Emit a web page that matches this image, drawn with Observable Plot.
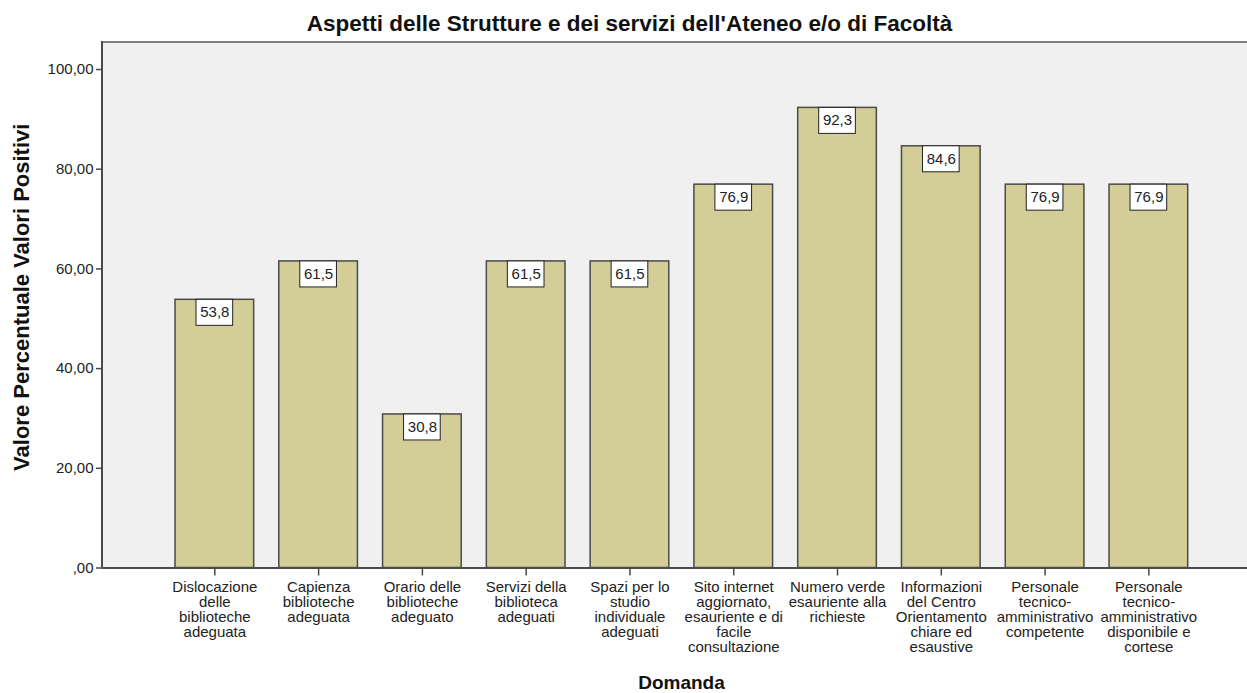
<!DOCTYPE html>
<html><head><meta charset="utf-8">
<script src="https://cdn.jsdelivr.net/npm/d3@7"></script>
<script src="https://cdn.jsdelivr.net/npm/@observablehq/plot@0.6"></script>
<style>body{margin:0;background:#fff} svg{display:block}</style>
</head><body><div id="chart"></div>
<script>
const categories = [
  "Dislocazione\ndelle\nbiblioteche\nadeguata",
  "Capienza\nbiblioteche\nadeguata",
  "Orario delle\nbiblioteche\nadeguato",
  "Servizi della\nbiblioteca\nadeguati",
  "Spazi per lo\nstudio\nindividuale\nadeguati",
  "Sito internet\naggiornato,\nesauriente e di\nfacile\nconsultazione",
  "Numero verde\nesauriente alla\nrichieste",
  "Informazioni\ndel Centro\nOrientamento\nchiare ed\nesaustive",
  "Personale\ntecnico-\namministrativo\ncompetente",
  "Personale\ntecnico-\namministrativo\ndisponibile e\ncortese"
];
const values = [53.8, 61.5, 30.8, 61.5, 61.5, 76.9, 92.3, 84.6, 76.9, 76.9];
const yTicks = [0, 20, 40, 60, 80, 100];
const titleText = "Aspetti delle Strutture e dei servizi dell'Ateneo e/o di Facoltà";
const yLabel = "Valore Percentuale Valori Positivi";
const xLabel = "Domanda";

const data = categories.map((c, i) => ({cat: c, value: values[i]}));
const fmtTick = d => d === 0 ? ",00" : d.toFixed(2).replace(".", ",");
const fmtVal = d => d.toFixed(1).replace(".", ",");
const FONT = "'Liberation Sans', Arial, sans-serif";

const borderLines = (index, scales, values, dim) => {
  const g = d3.create("svg:g");
  const x0 = dim.marginLeft, x1 = dim.width - dim.marginRight;
  const y0 = dim.marginTop, y1 = dim.height - dim.marginBottom;
  g.append("line").attr("x1", x0).attr("x2", x1).attr("y1", y0).attr("y2", y0)
    .attr("stroke", "#808080").attr("stroke-width", 2);
  g.append("line").attr("x1", x0).attr("x2", x0).attr("y1", y0 - 1).attr("y2", y1)
    .attr("stroke", "#4a4a4a").attr("stroke-width", 2);
  return g.node();
};

const chart = Plot.plot({
  width: 1247,
  height: 693,
  marginTop: 42,
  marginLeft: 102,
  marginRight: 0,
  marginBottom: 125.5,
  style: {fontFamily: FONT, color: "#222", background: "#fff"},
  x: {domain: categories, range: [175, 1187.7], paddingInner: 0.242, paddingOuter: 0, round: false, axis: null},
  y: {domain: [0, 105.42], axis: null},
  marks: [
    Plot.frame({fill: "#f0f0f0", stroke: null}),
    Plot.barY(data, {x: "cat", y: "value", fill: "#d3ce97", stroke: "#4a4a4a", strokeWidth: 1.5}),
    Plot.barY(data, {x: "cat", y1: "value", y2: "value", insetLeft: 21, insetRight: 21, insetBottom: -26, fill: "#fff", stroke: "#222", strokeWidth: 1}),
    Plot.text(data, {x: "cat", y: "value", dy: 12.5, text: d => fmtVal(d.value), fontSize: 15, fill: "#222", lineAnchor: "middle"}),
    Plot.ruleY([0], {stroke: "#4a4a4a", strokeWidth: 2}),
    borderLines,
    Plot.axisY(yTicks, {label: null, tickSize: 6, tickPadding: 3, tickFormat: fmtTick, fontSize: 15, stroke: "#4a4a4a", strokeWidth: 1.5, fill: "#222"}),
    Plot.axisX({label: null, tickSize: 8, tickPadding: 5, fontSize: 15, lineHeight: 1.0, stroke: "#4a4a4a", strokeWidth: 1.5, fill: "#222"}),
    Plot.text([titleText], {frameAnchor: "top", dx: -45.5, dy: -19, lineAnchor: "middle", fontSize: 22.5, fontWeight: "bold", fill: "#111"}),
    Plot.text([yLabel], {frameAnchor: "left", textAnchor: "middle", rotate: -90, dx: -81, dy: -8, lineAnchor: "middle", fontSize: 22, fontWeight: "bold", fill: "#111"}),
    Plot.text([xLabel], {frameAnchor: "bottom", dx: 6.5, dy: 115, lineAnchor: "middle", fontSize: 19, fontWeight: "bold", fill: "#111"})
  ]
});
document.getElementById("chart").appendChild(chart);
</script>
</body></html>
